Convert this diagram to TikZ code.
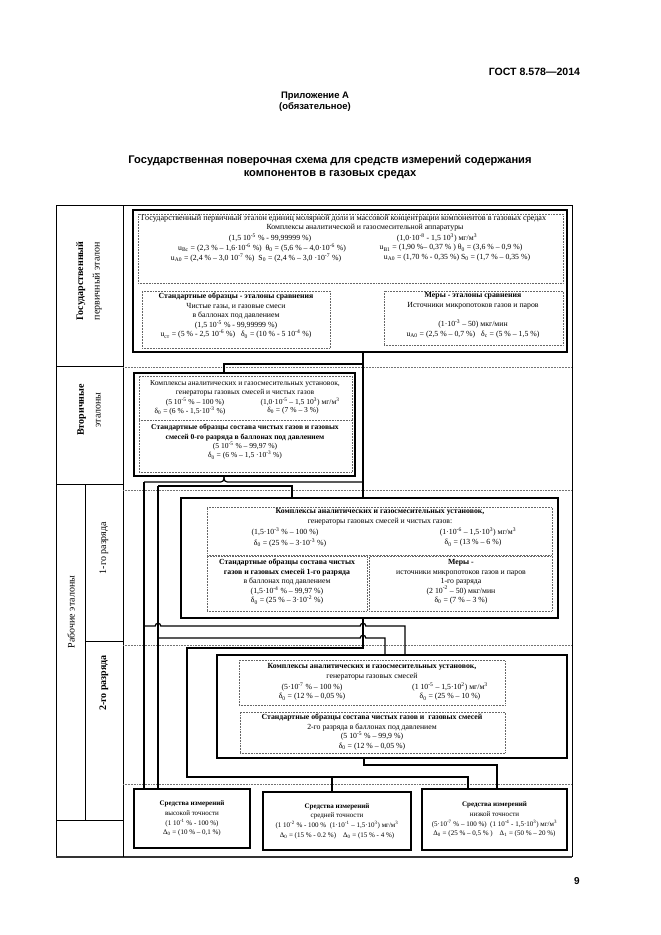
\documentclass[tikz,border=0pt]{standalone}
\usepackage{fontspec}
\setmainfont{Liberation Serif}
\newfontfamily\hdrfont{Liberation Sans}
\usetikzlibrary{fit,calc}
\newcommand{\up}[1]{\textsuperscript{#1}}
\newcommand{\dn}[1]{\textsubscript{#1}}
\begin{document}
\begin{tikzpicture}[x=0.9pt,y=-0.9pt,
  bigbox/.style={draw,line width=1.5pt,inner sep=0pt},
  endbox/.style={draw,line width=1.2pt,inner sep=0pt},
  dotbox/.style={draw=black!60,densely dotted,line width=0.4pt,inner sep=0pt},
  txt/.style={font=\fontsize{7}{8.55}\selectfont,inner sep=0pt,align=center},
  sectxt/.style={txt,font=\fontsize{6.8}{8.4}\selectfont},
  endtxt/.style={txt,font=\fontsize{6.3}{8.8}\selectfont},
  side/.style={font=\fontsize{9}{15}\selectfont,rotate=90,inner sep=0pt,align=center},
  link/.style={line width=1.1pt},
  row/.style={black!55,densely dotted,line width=0.4pt}]
\useasboundingbox (0,0) rectangle (661,935);

% header
\node[font=\hdrfont\bfseries\fontsize{9.5}{11}\selectfont,anchor=east] (gost) at (584,72) {ГОСТ 8.578—2014};
\node[font=\hdrfont\bfseries\fontsize{8.5}{10}\selectfont,align=center] (app) at (315,102) {Приложение А\\(обязательное)};
\node[font=\hdrfont\bfseries\fontsize{10}{12}\selectfont,align=center] (title) at (330,167)
  {Государственная поверочная схема для средств измерений содержания\\компонентов в газовых средах};
\node[font=\hdrfont\bfseries\fontsize{9}{10}\selectfont] (page) at (577,881) {9};

% frame and left column
\draw[line width=0.5pt] (56,857) -- (56,205) -- (572,205) -- (572,857);
\draw[line width=1.6pt,black!80] (56,857) -- (572,857);
\draw[line width=0.5pt] (123,205) -- (123,857);
\draw[line width=0.5pt] (56,366) -- (123,366) (56,484) -- (123,484) (85,641) -- (123,641) (56,820) -- (123,820);
\draw[line width=0.5pt] (85,484) -- (85,820);
\draw[row] (123,367) -- (572,367) (123,490) -- (572,490) (123,645) -- (572,645) (123,784) -- (572,784);

\node[side] (lab1) at (89,281) {{\bfseries Государственный}\\первичный эталон};
\node[side] (lab2) at (89,410) {{\bfseries Вторичные}\\эталоны};
\node[side] (lab3) at (71,612) {Рабочие эталоны};
\node[side] (lab4) at (104,548) {1-го разряда};
\node[side] (lab5) at (104,683) {\bfseries 2-го разряда};

% primary standard
\node[bigbox,fit={(133,210) (567,352)}] (prim) {};
\node[dotbox,fit={(138,214) (563,283)}] (primA) {};
\node[dotbox,fit={(142,291) (330,348)}] (primB) {};
\node[dotbox,fit={(384,291) (563,345)}] (primC) {};
\node[txt,anchor=west,font=\fontsize{7.3}{8.55}\selectfont] (p1) at (141,219) {Государственный первичный эталон единиц молярной доли и массовой концентрации компонентов в газовых средах};
\node[txt] (p2) at (365,228) {Комплексы аналитической и газосмесительной аппаратуры};
\node[txt] (p3) at (270,238) {(1,5 10\up{-5} \% - 99,99999 \%)};
\node[txt] (p4) at (437,238) {(1,0·10\up{-8} - 1,5 10\up{3}) мг/м\up{3}};
\node[txt] (p5) at (262,248) {u\dn{Bc} = (2,3 \% – 1,6·10\up{-6} \%)\ \ θ\dn{0} = (5,6 \% – 4,0·10\up{-6} \%)};
\node[txt] (p6) at (451,248) {u\dn{B1} = (1,90 \%– 0,37 \% )\ θ\dn{0} = (3,6 \% – 0,9 \%)};
\node[txt] (p7) at (256,258) {u\dn{A0} = (2,4 \% – 3,0 10\up{-7} \%)\ \ S\dn{0} = (2,4 \% – 3,0 ·10\up{-7} \%)};
\node[txt] (p8) at (457,258) {u\dn{A0} = (1,70 \% - 0,35 \%)\ S\dn{0} = (1,7 \% – 0,35 \%)};
\node[txt] (p9) at (236,316) {\textbf{Стандартные образцы - эталоны сравнения}\\Чистые газы, и газовые смеси\\в баллонах под давлением\\(1,5 10\up{-5} \% - 99,99999 \%)\\u\dn{ст} = (5 \% - 2,5 10\up{-6} \%)\ \ \ δ\dn{0} = (10 \% - 5 10\up{-4} \%)};
\node[txt] (p10) at (473,301) {\textbf{Меры - эталоны сравнения}\\Источники микропотоков газов и паров};
\node[txt] (p11) at (473,329) {(1·10\up{-3} – 50) мкг/мин\\u\dn{A0} = (2,5 \% – 0,7 \%)\ \ \ δ\dn{c} = (5 \% – 1,5 \%)};

% secondary standards
\node[bigbox,fit={(134,373) (355,476)}] (sec) {};
\node[dotbox,fit={(139,376) (352,420)}] (secA) {};
\node[dotbox,fit={(139,420) (352,472)}] (secB) {};
\node[sectxt] (s1) at (245,388) {Комплексы аналитических и газосмесительных установок,\\генераторы газовых смесей и чистых газов};
\node[sectxt] (s2) at (195,402) {(5 10\up{-5} \% – 100 \%)};
\node[sectxt] (s3) at (300,402) {(1,0·10\up{-5} – 1,5 10\up{3}) мг/м\up{3}};
\node[sectxt] (s4) at (190,411) {δ\dn{0} = (6 \% - 1,5·10\up{-3} \%)};
\node[sectxt] (s5) at (293,411) {δ\dn{0} = (7 \% – 3 \%)};
\node[sectxt] (s6) at (245,442) {\textbf{Стандартные образцы состава чистых газов и газовых}\\\textbf{смесей 0-го разряда в баллонах под давлением}\\(5 10\up{-5} \% – 99,97 \%)\\δ\dn{0} = (6 \% – 1,5 ·10\up{-3} \%)};

% working standards, 1st rank
\node[bigbox,fit={(181,498) (558,618)}] (rone) {};
\node[dotbox,fit={(207,507) (552,555)}] (roneA) {};
\node[dotbox,fit={(207,556) (367,611)}] (roneB) {};
\node[dotbox,fit={(369,556) (552,611)}] (roneC) {};
\node[txt] (r1) at (380,517) {\textbf{Комплексы аналитических и газосмесительных установок,}\\генераторы газовых смесей и чистых газов:};
\node[txt] (r2) at (285,532) {(1,5·10\up{-3} \% – 100 \%)};
\node[txt] (r3) at (478,532) {(1·10\up{-6} – 1,5·10\up{3}) мг/м\up{3}};
\node[txt] (r4) at (290,543) {δ\dn{0} = (25 \% – 3·10\up{-3} \%)};
\node[txt] (r5) at (473,543) {δ\dn{0} = (13 \% – 6 \%)};
\node[txt] (r6) at (287,582) {\textbf{Стандартные образцы состава чистых}\\\textbf{газов и газовых смесей 1-го разряда}\\в баллонах под давлением\\(1,5·10\up{-4} \% – 99,97 \%)\\δ\dn{0} = (25 \% – 3·10\up{-2} \%)};
\node[txt] (r7) at (461,582) {\textbf{Меры -}\\источники микропотоков газов и паров\\1-го разряда\\(2 10\up{-2} – 50) мкг/мин\\δ\dn{0} = (7 \% – 3 \%)};

% working standards, 2nd rank
\node[bigbox,fit={(217,655) (567,758)}] (rtwo) {};
\node[dotbox,fit={(239,660) (505,705)}] (rtwoA) {};
\node[dotbox,fit={(240,712) (505,753)}] (rtwoB) {};
\node[txt] (t1) at (372,672) {\textbf{Комплексы аналитических и газосмесительных установок,}\\генераторы газовых смесей};
\node[txt] (t2) at (312,687) {(5·10\up{-7} \% – 100 \%)};
\node[txt] (t3) at (450,687) {(1 10\up{-5} – 1,5·10\up{2}) мг/м\up{3}};
\node[txt] (t4) at (312,697) {δ\dn{0} = (12 \% – 0,05 \%)};
\node[txt] (t5) at (450,697) {δ\dn{0} = (25 \% – 10 \%)};
\node[txt] (t6) at (372,732) {\textbf{Стандартные образцы состава чистых газов и\ \ газовых смесей}\\2-го разряда в баллонах под давлением\\(5 10\up{-5} \% – 99,9 \%)\\δ\dn{0} = (12 \% – 0,05 \%)};

% measuring instruments
\node[endbox,fit={(134,789) (250,848)}] (hi) {};
\node[endbox,fit={(263,792) (411,850)}] (mid) {};
\node[endbox,fit={(422,789) (567,850)}] (lo) {};
\node[endtxt] (m1) at (hi.center) {\textbf{Средства измерений}\\высокой точности\\(1 10\up{-1} \% - 100 \%)\\Δ\dn{0} = (10 \% – 0,1 \%)};
\node[endtxt] (m2) at (mid.center) {\textbf{Средства измерений}\\средней точности\\(1 10\up{-2} \% - 100 \%\ \ (1·10\up{-1} – 1,5·10\up{3}) мг/м\up{3}\\Δ\dn{0} = (15 \% - 0.2 \%)\quad Δ\dn{0} = (15 \% - 4 \%)};
\node[endtxt] (m3) at (lo.center) {\textbf{Средства измерений}\\низкой точности\\(5·10\up{-7} \% – 100 \%)\ \ (1 10\up{-4} - 1,5·10\up{3}) мг/м\up{3}\\Δ\dn{0} = (25 \% – 0,5 \% )\quad Δ\dn{1} = (50 \% – 20 \%)};

% connectors
\coordinate (ka) at (363,364);
\coordinate (kb) at (224,482);
\coordinate (kc) at (144,482);
\coordinate (kd) at (158,486);
\coordinate (ke) at (292,486);
\coordinate (kf) at (144,626);
\coordinate (kg) at (405,626);
\coordinate (kh) at (158,638);
\coordinate (ki) at (385,638);
\coordinate (kj) at (363,648);
\coordinate (kk) at (187,648);
\coordinate (kl) at (187,777);
\coordinate (km) at (468,777);
\coordinate (kn) at (332,777);
\coordinate (ko) at (364,765);
\coordinate (kp) at (497,765);
\draw[link] (prim.south -| ka) -- (rone.north -| ka);
\draw[link] (ka) -| (sec.north -| kb);
\draw[link,rounded corners=3pt] (kc) -- (kb) -- (sec.south -| kb);
\draw[link,rounded corners=3pt] (sec.south -| kb) -- (kb) -- (kb -| ka);
\draw[link] (kc) -- (hi.north -| kc);
\draw[link] (kd) -- (ke) -- (rone.north -| ke);
\draw[link] (kd) -- (hi.north -| kd);
\draw[link] (kf) -- ($(kf -| kh)+(-2.5pt,0)$) arc[start angle=180,end angle=0,radius=2.5pt]
  -- ($(kf -| kj)+(-2.5pt,0)$) arc[start angle=180,end angle=0,radius=2.5pt] -- (kg) -- (rtwo.north -| kg);
\draw[link] (kh) -- ($(kh -| kj)+(-2.5pt,0)$) arc[start angle=180,end angle=0,radius=2.5pt] -- (ki) -- (rtwo.north -| ki);
\draw[link] (rone.south -| kj) -- (kj) -- (kk) -- (kl) -- (km) -- (lo.north -| km);
\draw[link] (kn) -- (mid.north -| kn);
\draw[link] (rtwo.south -| ko) -- (ko) -- (kp) -- (lo.north -| kp);
\end{tikzpicture}
\end{document}
